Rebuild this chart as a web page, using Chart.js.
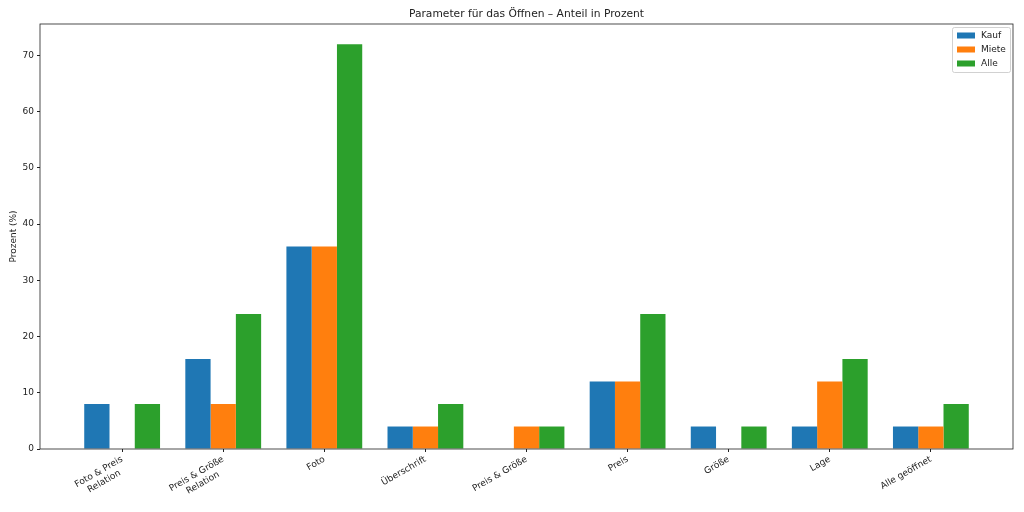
<!DOCTYPE html>
<html>
<head>
<meta charset="utf-8">
<script src="https://cdn.jsdelivr.net/npm/chart.js@4/dist/chart.umd.min.js"></script>
<style>
  body { margin: 0; background: #fff; }
  canvas { display: block; }
</style>
</head>
<body>
<canvas id="chart" width="1024" height="512"></canvas>
<script>
// --- Daten ---
const categories = [
    ['Foto & Preis', 'Relation'],
    ['Preis & Größe', 'Relation'],
    'Foto',
    'Überschrift',
    'Preis & Größe',
    'Preis',
    'Größe',
    'Lage',
    'Alle geöffnet'
];
const seriesNames = ['Kauf', 'Miete', 'Alle'];
const kauf = [8, 16, 36, 4, 0, 12, 4, 4, 4];
const miete = [0, 8, 36, 4, 4, 12, 0, 12, 4];
const alle = [8, 24, 72, 8, 4, 24, 4, 16, 8];
const yTicks = [0, 10, 20, 30, 40, 50, 60, 70];

const colors = ['#1f77b4', '#ff7f0e', '#2ca02c'];
const FONT = 'DejaVu Sans';
const FS = 9;

function toPoints(values) {
    return values.map((v, i) => ({ x: i, y: v }));
}

// Mehrzeilige Labels zentriert ausrichten (wie matplotlib), indem kürzere Zeilen rechts aufgefüllt werden
const measureCtx = document.createElement('canvas').getContext('2d');
function centerLines(label) {
    if (!Array.isArray(label)) return label;
    measureCtx.font = `${FS}px "${FONT}"`;
    const widths = label.map(l => measureCtx.measureText(l).width);
    const maxW = Math.max(...widths);
    const spaceW = measureCtx.measureText(' ').width;
    return label.map((l, i) => l + ' '.repeat(Math.round((maxW - widths[i]) / 2 / spaceW)));
}

// Rahmen um die Achsen (wie matplotlib spines)
const spinesPlugin = {
    id: 'spines',
    afterDatasetsDraw(chart) {
        const { ctx, chartArea: a } = chart;
        ctx.save();
        ctx.strokeStyle = '#222';
        ctx.lineWidth = 0.8;
        ctx.strokeRect(a.left, a.top, a.right - a.left, a.bottom - a.top);
        ctx.restore();
    }
};

// Legende oben rechts innerhalb der Achsen
const innerLegendPlugin = {
    id: 'innerLegend',
    afterDraw(chart) {
        const { ctx, chartArea: a } = chart;
        const w = 58, h = 45;
        const left = a.right - 61, top = a.top + 3;
        ctx.save();
        ctx.fillStyle = 'rgba(255,255,255,0.8)';
        ctx.strokeStyle = 'rgba(204,204,204,0.9)';
        ctx.lineWidth = 1;
        ctx.beginPath();
        ctx.roundRect(left + 0.5, top + 0.5, w, h, 2);
        ctx.fill();
        ctx.stroke();
        ctx.font = `${FS}px "${FONT}"`;
        ctx.textBaseline = 'middle';
        chart.data.datasets.forEach((ds, i) => {
            const cy = top + 8.5 + i * 14;
            ctx.fillStyle = ds.backgroundColor;
            ctx.fillRect(left + 5, cy - 3, 18, 6);
            ctx.fillStyle = '#222';
            ctx.fillText(ds.label, left + 29, cy);
        });
        ctx.restore();
    }
};

const ctx = document.getElementById('chart').getContext('2d');
new Chart(ctx, {
    type: 'bar',
    data: {
        datasets: [
            { label: seriesNames[0], data: toPoints(kauf), backgroundColor: colors[0] },
            { label: seriesNames[1], data: toPoints(miete), backgroundColor: colors[1] },
            { label: seriesNames[2], data: toPoints(alle), backgroundColor: colors[2] }
        ]
    },
    options: {
        responsive: false,
        animation: false,
        layout: { padding: { left: 0, right: 11, top: 0, bottom: 0 } },
        datasets: {
            bar: { categoryPercentage: 0.75, barPercentage: 1.0, borderWidth: 0 }
        },
        scales: {
            x: {
                type: 'linear',
                offset: false,
                min: -0.8125,
                max: categories.length - 1 + 0.8125,
                afterBuildTicks: (scale) => {
                    scale.ticks = categories.map((c, i) => ({ value: i }));
                },
                afterFit: (scale) => { scale.height = 63; },
                border: { display: false },
                grid: { offset: false, drawOnChartArea: false, drawTicks: true, tickLength: 3, color: '#222' },
                ticks: {
                    color: '#222',
                    font: { family: FONT, size: FS },
                    minRotation: 30,
                    maxRotation: 30,
                    autoSkip: false,
                    padding: 2,
                    callback: (value) => centerLines(categories[value])
                }
            },
            y: {
                min: 0,
                max: 75.6,
                afterBuildTicks: (scale) => {
                    scale.ticks = yTicks.map(v => ({ value: v }));
                },
                afterFit: (scale) => { scale.width = 40; },
                border: { display: false },
                grid: { drawOnChartArea: false, drawTicks: true, tickLength: 3, color: '#222' },
                ticks: {
                    color: '#222',
                    font: { family: FONT, size: FS },
                    padding: 3
                },
                title: {
                    display: true,
                    text: 'Prozent (%)',
                    color: '#222',
                    font: { family: FONT, size: FS },
                    padding: { top: 8, bottom: 0 }
                }
            }
        },
        plugins: {
            legend: { display: false },
            tooltip: { enabled: false },
            title: {
                display: true,
                fullSize: false,
                text: 'Parameter für das Öffnen – Anteil in Prozent',
                color: '#222',
                font: { family: FONT, size: 10.7, weight: 'normal' },
                padding: { top: 7.5, bottom: 3.66 }
            }
        }
    },
    plugins: [spinesPlugin, innerLegendPlugin]
});
</script>
</body>
</html>
